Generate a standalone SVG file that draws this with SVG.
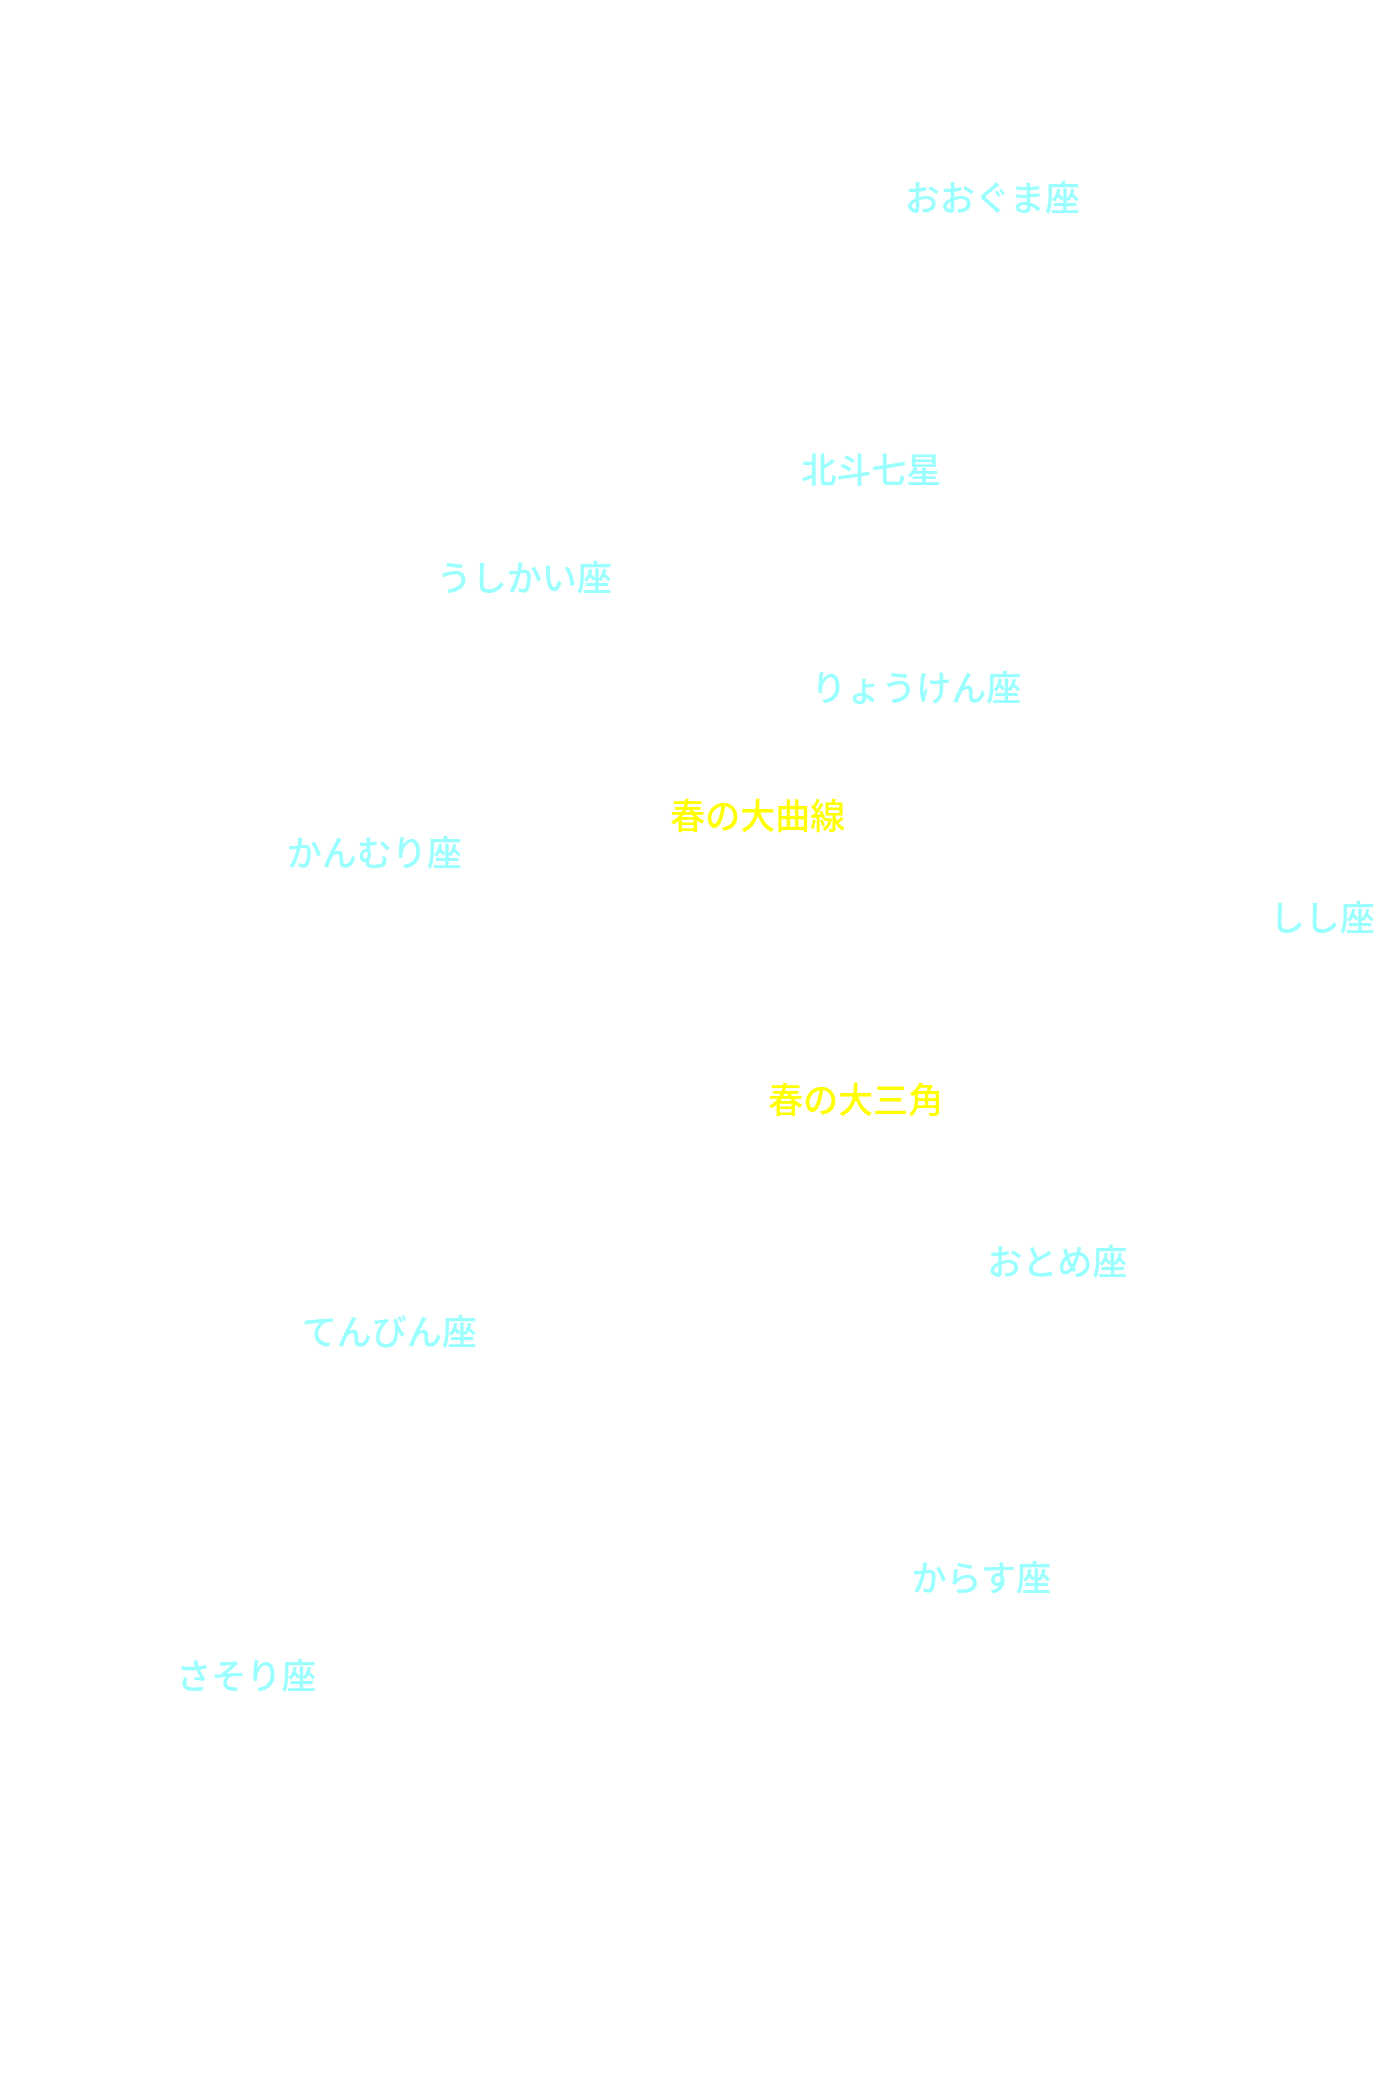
<svg xmlns="http://www.w3.org/2000/svg" width="1400" height="2100" viewBox="0 0 1400 2100">
<style>
text{font-family:"Noto Sans CJK JP","Noto Sans",sans-serif;font-size:35px;font-weight:500;text-anchor:middle}
.c{fill:#99ffff}
.y{fill:#ffff00}
</style>
<rect width="1400" height="2100" fill="#ffffff"/>
<g id="connectors"/>
<g id="ursa-major"><text class="c" x="992" y="211">おおぐま座</text></g>
<g id="big-dipper"><text class="c" x="871" y="483">北斗七星</text></g>
<g id="bootes"><text class="c" x="524" y="591">うしかい座</text></g>
<g id="canes-venatici"><text class="c" x="916" y="701">りょうけん座</text></g>
<g id="spring-arc"><text class="y" x="758" y="829">春の大曲線</text></g>
<g id="corona-borealis"><text class="c" x="374" y="866">かんむり座</text></g>
<g id="leo"><text class="c" x="1322" y="931">しし座</text></g>
<g id="spring-triangle"><text class="y" x="856" y="1113">春の大三角</text></g>
<g id="virgo"><text class="c" x="1057" y="1275">おとめ座</text></g>
<g id="libra"><text class="c" x="389" y="1345">てんびん座</text></g>
<g id="corvus"><text class="c" x="981" y="1591">からす座</text></g>
<g id="scorpius"><text class="c" x="246" y="1689">さそり座</text></g>
</svg>
